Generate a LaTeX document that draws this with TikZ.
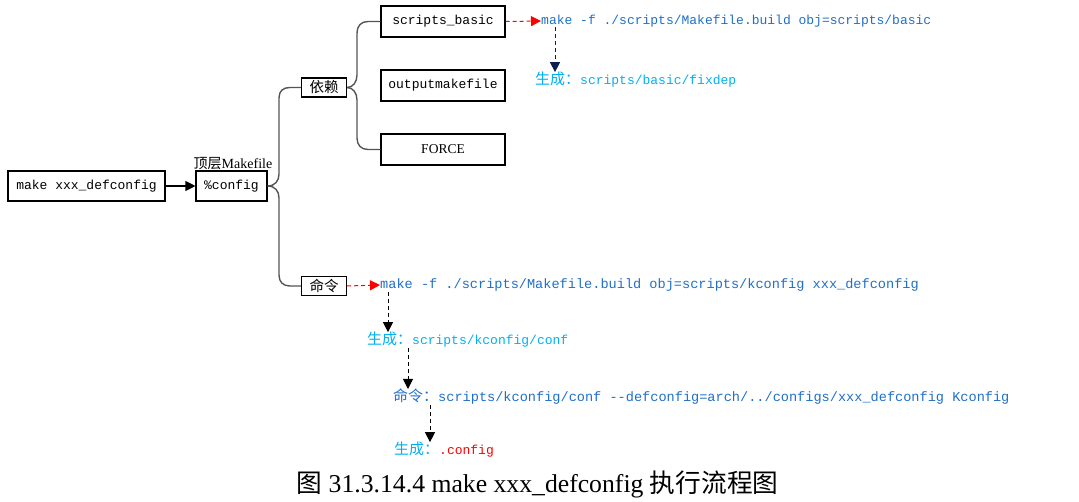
\documentclass[tikz,border=0pt]{standalone}
\usepackage{fontspec}
\setmainfont{Liberation Serif}
\setmonofont{Liberation Mono}
\newfontfamily\cjk{Noto Sans CJK SC}
\usetikzlibrary{arrows.meta}
\definecolor{cblue}{HTML}{1F6FC8}
\definecolor{lblue}{HTML}{00B0F0}
\definecolor{navyc}{HTML}{0A2050}
\definecolor{braceg}{HTML}{555555}
\definecolor{redc}{HTML}{FF0000}
\newcommand{\cjkpre}[1]{{\fontsize{15}{15}\selectfont\cjk #1}}
\begin{document}
\begin{tikzpicture}[x=1pt,y=-1pt,
  box/.style={draw, line width=1.1pt, inner sep=0pt, font=\fontsize{13}{15}\selectfont\ttfamily},
  cbox/.style={draw, line width=1.1pt, inner sep=0pt, minimum width=45pt, minimum height=19pt, font=\fontsize{14.5}{16}\selectfont\cjk},
  mono/.style={anchor=west, inner sep=0pt, font=\fontsize{13}{15}\selectfont\ttfamily},
  monow/.style={anchor=west, inner sep=0pt, font=\fontsize{13.6}{15}\selectfont\ttfamily},
  bracel/.style={draw=braceg, line width=1.4pt},
  tipT/.style={-{Triangle[length=10pt,width=10pt]}},
  reddash/.style={tipT, draw=redc, line width=1pt, dash pattern=on 4pt off 3pt},
  navydash/.style={tipT, draw=navyc, line width=1pt, dash pattern=on 4pt off 3pt},
  blackdash/.style={tipT, draw=black, line width=1pt, dash pattern=on 4pt off 3pt}]
\useasboundingbox (0,0) rectangle (1079,502);

% boxes
\node[box, minimum width=157pt, minimum height=30pt] (mk) at (86.5,186) {make xxx\_defconfig};
\node[box, minimum width=71pt, minimum height=30pt] (cfg) at (231.5,186) {\%config};
\node[anchor=south, inner sep=0pt, font=\fontsize{14}{16}\selectfont] (top) at (233,170) {{\cjk 顶层}Makefile};
\node[cbox] (dep) at (324,87.5) {依赖};
\node[cbox] (cmd) at (324,286) {命令};
\node[box, minimum width=124pt, minimum height=31pt] (sb) at (443,21.5) {scripts\_basic};
\node[box, minimum width=124pt, minimum height=31pt] (om) at (443,85.5) {outputmakefile};
\node[box, minimum width=124pt, minimum height=31pt, font=\fontsize{13.5}{15}\selectfont] (fo) at (443,149.5) {FORCE};

% arrow make -> %config
\draw[tipT, line width=1.1pt] (mk) -- (cfg);

% braces
\draw[bracel] (cfg.east) .. controls (275,186) and (279,181) .. (279,174) -- (279,98) .. controls (279,91) and (283,87.5) .. (290,87.5) -- (dep.west);
\draw[bracel] (cfg.east) .. controls (275,186) and (279,191) .. (279,198) -- (279,275) .. controls (279,282) and (283,286) .. (290,286) -- (cmd.west);
\draw[bracel] (dep.east) .. controls (353,87.5) and (357,82) .. (357,75) -- (357,33) .. controls (357,26) and (361,21.5) .. (368,21.5) -- (sb.west);
\draw[bracel] (dep.east) .. controls (353,87.5) and (357,93) .. (357,100) -- (357,138) .. controls (357,145) and (361,149.5) .. (368,149.5) -- (fo.west);

% texts
\node[mono, text=cblue] (t1) at (541,21) {make -f ./scripts/Makefile.build obj=scripts/basic};
\node[mono, text=lblue] (t2) at (535,80) {\cjkpre{生成：}scripts/basic/fixdep};
\node[monow, text=cblue] (t3) at (380,285) {make -f ./scripts/Makefile.build obj=scripts/kconfig xxx\_defconfig};
\node[mono, text=lblue] (t4) at (367,340) {\cjkpre{生成：}scripts/kconfig/conf};
\node[monow, text=cblue] (t5) at (393,397) {\cjkpre{命令：}scripts/kconfig/conf --defconfig=arch/../configs/xxx\_defconfig Kconfig};
\node[mono, text=lblue] (t6) at (394,450) {\cjkpre{生成：}\textcolor{redc}{.config}};

% dashed arrows
\draw[reddash] (sb.east) -- (t1.west);
\draw[navydash] ([xshift=14pt]t1.south west) -- ([xshift=14pt]t1.south west |- t2.north);
\draw[reddash] (cmd.east) -- (t3.west);
\draw[blackdash] ([xshift=8pt]t3.south west) -- ([xshift=8pt]t3.south west |- t4.north);
\draw[blackdash] ([xshift=41pt]t4.south west) -- ([xshift=41pt]t4.south west |- t5.north);
\draw[blackdash] ([xshift=37pt]t5.south west) -- ([xshift=37pt]t5.south west |- t6.north);

% caption
\node[inner sep=0pt, font=\fontsize{25.7}{28}\selectfont] (cap) at (537.5,484) {{\cjk 图} 31.3.14.4 make xxx\_defconfig {\cjk 执行流程图}};
\end{tikzpicture}
\end{document}
